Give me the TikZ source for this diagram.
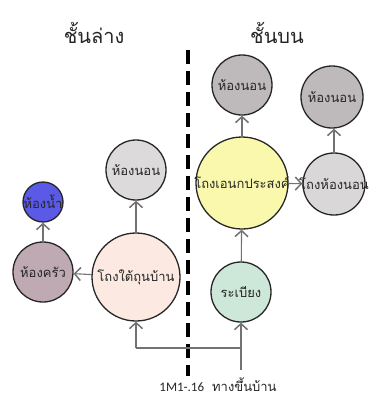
\documentclass[tikz,border=0pt]{standalone}
\usepackage{fontspec}
\usetikzlibrary{arrows.meta}
\newfontfamily\thai[Script=Thai]{Loma}
\newfontfamily\latn{Carlito}
\definecolor{txt}{HTML}{262626}
\definecolor{edgec}{HTML}{727272}
\definecolor{roomgray}{HTML}{BEB9BA}
\definecolor{roomlight}{HTML}{DCDADB}
\definecolor{bathblue}{HTML}{5A5AE6}
\definecolor{kitchen}{HTML}{BFAAB4}
\definecolor{underhall}{HTML}{FCEAE2}
\definecolor{multi}{HTML}{FAF8AC}
\definecolor{bedhall}{HTML}{DAD7D9}
\definecolor{porch}{HTML}{CDE8D9}
\tikzset{
  room/.style={circle,draw=black!85,line width=1.3pt,inner sep=0pt,text=txt,font=\thai\fontsize{13}{15}\selectfont},
  conn/.style={draw=edgec,line width=1.1pt,-{Straight Barb[length=6pt,width=13pt,line width=1.5pt]}},
  plain/.style={draw=edgec,line width=1.1pt},
  title/.style={text=txt,font=\thai\fontsize{20}{24}\selectfont},
  divider/.style={line width=4.5pt,dash pattern=on 14pt off 7pt,draw=black}
}
\newcommand{\ctext}[1]{\makebox[0pt]{#1}}
\begin{document}
\begin{tikzpicture}[x=1pt,y=-1pt]
\useasboundingbox[fill=white] (0,0) rectangle (368,397);
\node[title] (tl) at (94,33) {ชั้นล่าง};
\node[title] (tr) at (277,33) {ชั้นบน};
\draw[divider] (188,50) -- (188,376);
% lower floor
\node[room,fill=bathblue,minimum size=40pt] (bath) at (43,202) {\ctext{ห้องน้ำ}};
\node[room,fill=kitchen,minimum size=60pt] (kit) at (43,272) {\ctext{ห้องครัว}};
\node[room,fill=roomlight,minimum size=60pt] (bedL) at (136,170) {\ctext{ห้องนอน}};
\node[room,fill=underhall,minimum size=88pt] (uh) at (136,277) {\ctext{โถงใต้ถุนบ้าน}};
% upper floor
\node[room,fill=roomgray,minimum size=60pt] (bed1) at (242,85) {\ctext{ห้องนอน}};
\node[room,fill=roomgray,minimum size=62pt] (bed2) at (332,97) {\ctext{ห้องนอน}};
\node[room,fill=multi,minimum size=92pt] (mp) at (242,183) {\ctext{โถงเอนกประสงค์}};
\node[room,fill=bedhall,minimum size=62pt] (bh) at (334,184) {\ctext{โถงห้องนอน}};
\node[room,fill=porch,minimum size=60pt] (pr) at (241,292) {\ctext{ระเบียง}};
% connectors
\draw[conn] (kit) -- (bath);
\draw[conn] (uh) -- (kit);
\draw[conn] (uh) -- (bedL);
\draw[conn] (mp) -- (bed1);
\draw[conn] (mp) -- (bh);
\draw[conn] (bh.north) -- (bh.north |- bed2.south);
\draw[conn] (pr) -- (mp);
\coordinate (entry) at (241,370);
\coordinate (jr) at (241,348);
\coordinate (jl) at (136,348);
\draw[conn] (entry) -- (pr);
\draw[plain] (jr) -- (jl);
\draw[conn] (jl) -- (uh);
\node[text=txt,anchor=base] (lbl) at (218,391) {{\latn\fontsize{13}{15}\selectfont 1M1-.16}\hspace{8pt}{\thai\fontsize{13}{15}\selectfont ทางขึ้นบ้าน}};
\end{tikzpicture}
\end{document}
